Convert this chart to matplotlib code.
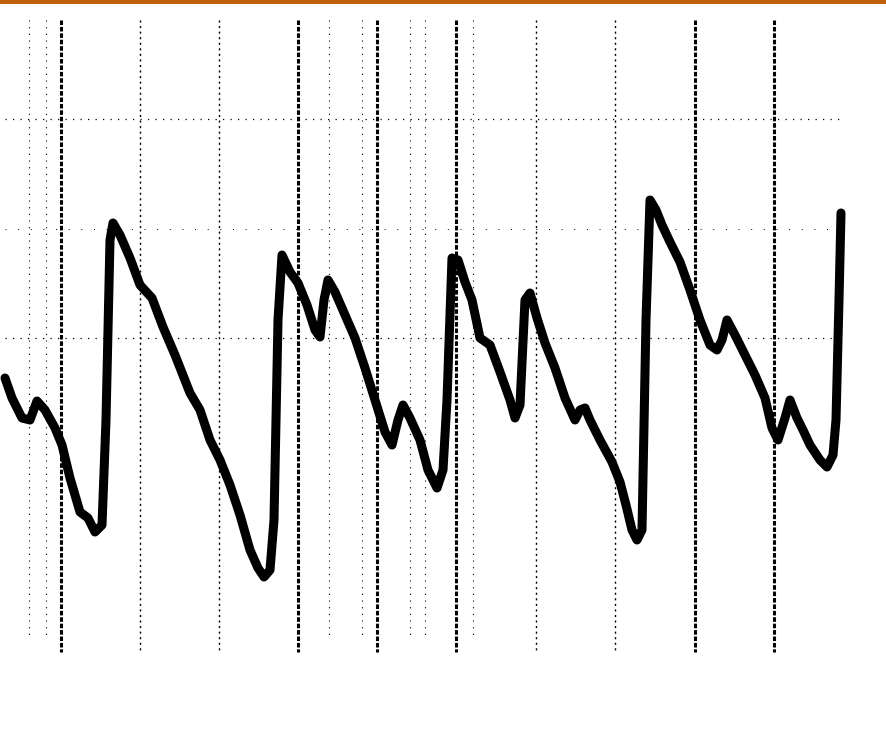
import matplotlib
matplotlib.use('Agg')
import matplotlib.pyplot as plt

# trace (horizontal position, vertical position in screen units)
trace_x = [5, 12, 22, 30, 37, 45, 55, 62, 70, 80, 88, 95, 102, 106, 110, 113,
           120, 130, 140, 152, 163, 175, 190, 200, 210, 220, 230, 240, 250, 258, 264, 270, 274,
           278, 282, 290, 298, 307, 315, 320, 324, 328, 335, 345, 355, 365, 375, 385, 392, 398,
           403, 410, 420, 428, 437, 443, 447, 452, 458, 465, 472, 480, 490, 500, 510, 515,
           520, 525, 530, 537, 545, 555, 565, 575, 580, 585, 590, 600, 612, 620, 626, 632, 637,
           642, 646, 650, 656, 662, 670, 680, 690, 700, 710, 717, 722, 727, 735, 745, 755,
           765, 772, 778, 785, 790, 797, 803, 810, 820, 827, 833, 836, 839, 841]
trace_y = [378, 398, 418, 420, 401, 410, 428, 445, 478, 512, 518, 532, 525, 420, 240, 223,
           235, 258, 285, 298, 327, 355, 393, 410, 440, 460, 485, 515, 550, 568, 577, 570, 520,
           320, 255, 272, 283, 305, 330, 337, 300, 280, 292, 315, 338, 368, 400, 432, 445, 420,
           405, 418, 440, 470, 488, 470, 400, 258, 260, 282, 300, 338, 345, 372, 400, 418,
           405, 300, 293, 318, 343, 368, 398, 420, 410, 408, 420, 440, 462, 482, 505, 530, 540,
           530, 320, 200, 210, 225, 242, 262, 290, 320, 345, 350, 340, 320, 335, 355, 375,
           398, 428, 440, 418, 400, 418, 430, 445, 460, 467, 455, 420, 300, 213]

# scope graticule
major_x = [61, 298, 377, 456, 695, 774]
minor_x = [140, 219, 536, 615]
faint_x = [29, 46, 329, 362, 410, 425, 473]
main_y = [119, 338]
faint_y = [229]

fig = plt.figure(figsize=(8.86, 7.30), dpi=100)
ax = fig.add_axes([0, 0, 1, 1])
ax.set_xlim(0, 886)
ax.set_ylim(730, 0)
ax.axis('off')

# orange header strip
ax.axhspan(0, 4, color='#bf5f0c', lw=0)

for x in major_x:
    ax.plot([x, x], [20, 652], color='black', lw=2.2, ls=(0, (1.5, 0.6)))
for x in minor_x:
    ax.plot([x, x], [20, 650], color='black', lw=1.0, ls=(0, (1.5, 2.5)))
for x in faint_x:
    ax.plot([x, x], [20, 640], color='black', lw=0.8, ls=(0, (1, 5)))
for y in main_y:
    ax.plot([5, 842], [y, y], color='black', lw=0.9, ls=(0, (1, 5)))
for y in faint_y:
    ax.plot([5, 842], [y, y], color='black', lw=0.7, ls=(0, (1, 12)))

ax.plot(trace_x, trace_y, color='black', lw=6.5, solid_joinstyle='round', solid_capstyle='round')

fig.savefig('out.png', dpi=100, facecolor='white')
